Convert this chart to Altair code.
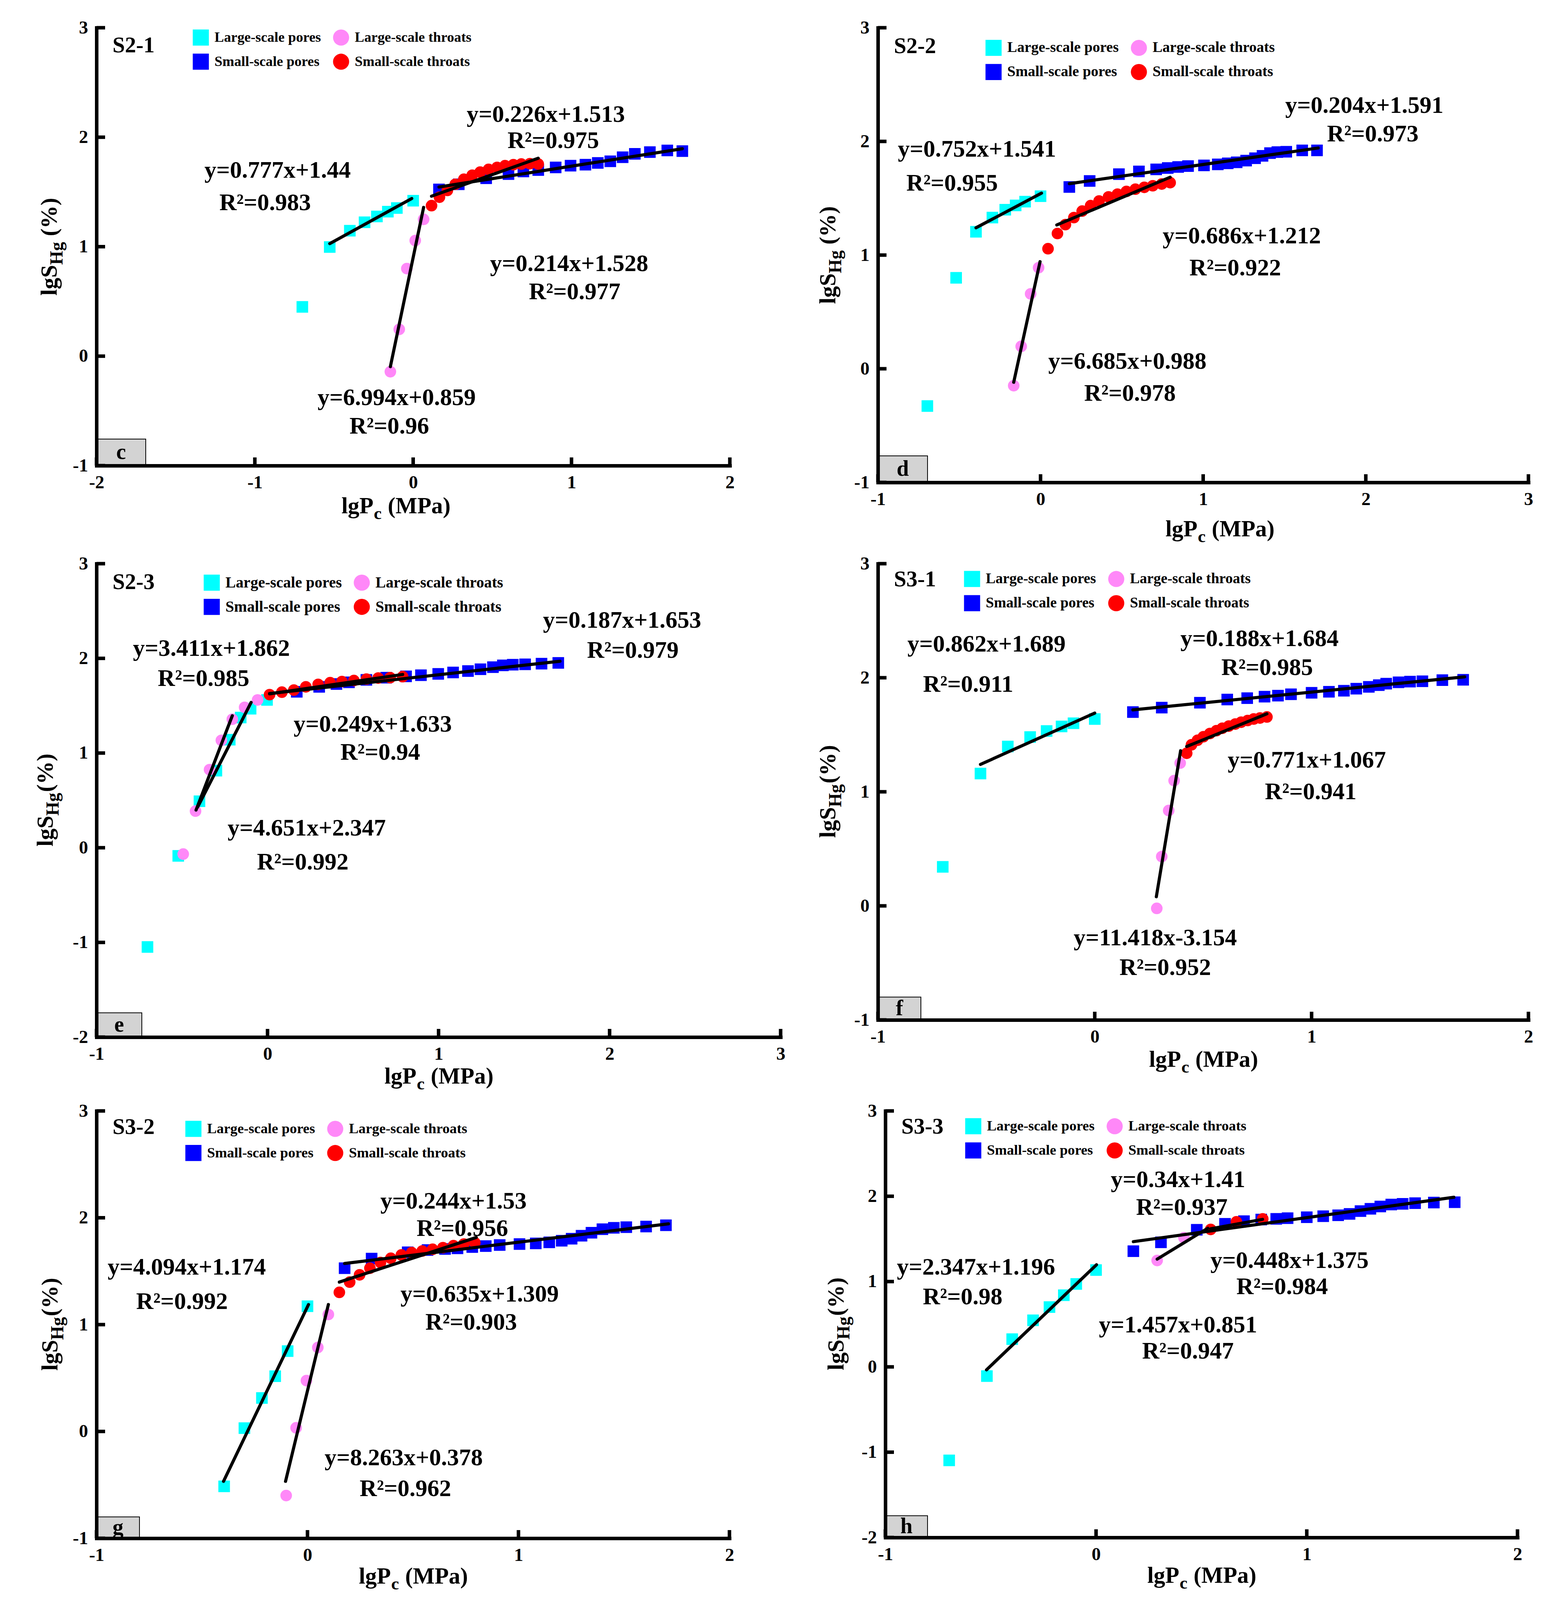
import altair as alt
import pandas as pd

FONT = "Liberation Serif"
# legend is filled column by column, so this order gives rows (pores|throats)
SERIES = ["Large-scale pores", "Small-scale pores", "Large-scale throats", "Small-scale throats"]
COLORS = ["#00FFFF", "#0000FF", "#FF88F8", "#FF0000"]
SHAPES = ["square", "square", "circle", "circle"]
DRAW_ORDER = [0, 1, 2, 3]
VS = 0.943  # vertical layout factor so the whole figure fits the photographed viewport

# ---------------- Panel c : S2-1 ----------------
c_lp_x = [-0.70, -0.527, -0.40, -0.307, -0.229, -0.16, -0.103, 0.0]
c_lp_y = [0.45, 0.997, 1.146, 1.223, 1.276, 1.32, 1.353, 1.42]
c_lt_x = [-0.144, -0.088, -0.04, 0.013, 0.066]
c_lt_y = [-0.142, 0.245, 0.80, 1.056, 1.25]
c_sp_x = [0.163, 0.288, 0.461, 0.602, 0.696, 0.79, 0.9, 0.994, 1.088, 1.166, 1.245, 1.323, 1.40, 1.495, 1.605, 1.70]
c_sp_y = [1.523, 1.57, 1.625, 1.663, 1.687, 1.70, 1.724, 1.74, 1.749, 1.765, 1.78, 1.817, 1.848, 1.864, 1.879, 1.873]
c_st_x = [0.116, 0.166, 0.216, 0.266, 0.32, 0.373, 0.423, 0.476, 0.53, 0.58, 0.633, 0.683, 0.737, 0.79]
c_st_y = [1.375, 1.452, 1.514, 1.57, 1.616, 1.653, 1.681, 1.706, 1.724, 1.74, 1.749, 1.755, 1.758, 1.755]
c_fit_x1 = [-0.527, -0.144, 0.116, 0.163]
c_fit_y1 = [1.028, -0.096, 1.461, 1.545]
c_fit_x2 = [-0.009, 0.066, 0.79, 1.70]
c_fit_y2 = [1.44, 1.359, 1.808, 1.895]
c_note_text = ["y=0.226x+1.513", "R²=0.975", "y=0.777x+1.44", "R²=0.983",
               "y=0.214x+1.528", "R²=0.977", "y=6.994x+0.859", "R²=0.96"]
c_note_x = [0.838, 0.885, -0.856, -0.935, 0.985, 1.02, -0.104, -0.151]
c_note_y = [2.204, 1.966, 1.693, 1.399, 0.842, 0.585, -0.381, -0.644]

# ---------------- Panel d : S2-2 ----------------
d_lp_x = [-0.696, -0.519, -0.397, -0.296, -0.217, -0.153, -0.095, 0.0]
d_lp_y = [-0.328, 0.80, 1.205, 1.33, 1.399, 1.437, 1.47, 1.518]
d_lt_x = [-0.165, -0.119, -0.061, -0.012]
d_lt_y = [-0.149, 0.197, 0.659, 0.889]
d_sp_x = [0.177, 0.302, 0.482, 0.605, 0.711, 0.782, 0.846, 0.907, 1.005, 1.09, 1.151, 1.206, 1.264, 1.319,
          1.365, 1.411, 1.456, 1.511, 1.609, 1.70]
d_sp_y = [1.599, 1.652, 1.712, 1.736, 1.754, 1.766, 1.775, 1.783, 1.789, 1.798, 1.807, 1.816, 1.831, 1.852,
          1.873, 1.897, 1.906, 1.909, 1.921, 1.921]
d_st_x = [0.046, 0.104, 0.153, 0.205, 0.256, 0.308, 0.36, 0.418, 0.473, 0.528, 0.583, 0.638, 0.69, 0.745, 0.797]
d_st_y = [1.056, 1.19, 1.268, 1.33, 1.387, 1.435, 1.476, 1.512, 1.536, 1.56, 1.58, 1.596, 1.61, 1.625, 1.637]
d_fit_x1 = [-0.397, -0.165, 0.1, 0.177]
d_fit_y1 = [1.24, -0.119, 1.265, 1.628]
d_fit_x2 = [0.006, -0.003, 0.797, 1.707]
d_fit_y2 = [1.545, 0.942, 1.685, 1.942]
d_note_text = ["y=0.204x+1.591", "R²=0.973", "y=0.752x+1.541", "R²=0.955",
               "y=0.686x+1.212", "R²=0.922", "y=6.685x+0.988", "R²=0.978"]
d_note_x = [1.991, 2.043, -0.391, -0.544, 1.237, 1.197, 0.534, 0.55]
d_note_y = [2.314, 2.061, 1.927, 1.628, 1.166, 0.883, 0.063, -0.221]

# ---------------- Panel e : S2-3 ----------------
e_lp_x = [-0.702, -0.522, -0.398, -0.299, -0.221, -0.157, -0.099, -0.003]
e_lp_y = [-1.048, -0.086, 0.491, 0.814, 1.141, 1.375, 1.468, 1.561]
e_lt_x = [-0.493, -0.421, -0.339, -0.27, -0.206, -0.134, -0.058]
e_lt_y = [-0.067, 0.387, 0.825, 1.134, 1.357, 1.483, 1.561]
e_sp_x = [0.171, 0.302, 0.403, 0.476, 0.578, 0.694, 0.81, 0.897, 0.998, 1.085, 1.172, 1.245, 1.318, 1.376,
          1.434, 1.506, 1.602, 1.70]
e_sp_y = [1.647, 1.699, 1.729, 1.747, 1.773, 1.796, 1.81, 1.822, 1.836, 1.851, 1.866, 1.885, 1.907, 1.926,
          1.933, 1.937, 1.944, 1.952]
e_st_x = [0.012, 0.084, 0.154, 0.224, 0.296, 0.366, 0.435, 0.505, 0.578, 0.647, 0.717, 0.79]
e_st_y = [1.617, 1.643, 1.665, 1.699, 1.725, 1.743, 1.755, 1.766, 1.781, 1.792, 1.796, 1.807]
e_fit_x1 = [-0.409, -0.418, 0.012, 0.012]
e_fit_y1 = [0.428, 0.398, 1.625, 1.628]
e_fit_x2 = [-0.096, -0.206, 0.79, 1.71]
e_fit_y2 = [1.535, 1.394, 1.83, 1.97]
e_note_text = ["y=0.187x+1.653", "R²=0.979", "y=3.411x+1.862", "R²=0.985",
               "y=0.249x+1.633", "R²=0.94", "y=4.651x+2.347", "R²=0.992"]
e_note_x = [2.073, 2.136, -0.328, -0.374, 0.615, 0.659, 0.229, 0.206]
e_note_y = [2.398, 2.082, 2.1, 1.784, 1.301, 1.004, 0.204, -0.156]

# ---------------- Panel f : S3-1 ----------------
f_lp_x = [-0.701, -0.527, -0.401, -0.298, -0.222, -0.153, -0.098, 0.0]
f_lp_y = [0.342, 1.16, 1.397, 1.48, 1.533, 1.573, 1.601, 1.638]
f_lt_x = [0.286, 0.309, 0.341, 0.366, 0.394]
f_lt_y = [-0.022, 0.432, 0.836, 1.098, 1.252]
f_sp_x = [0.176, 0.309, 0.485, 0.611, 0.703, 0.783, 0.845, 0.905, 1.0, 1.08, 1.149, 1.206, 1.264, 1.31,
          1.344, 1.401, 1.454, 1.511, 1.603, 1.699]
f_sp_y = [1.699, 1.738, 1.781, 1.809, 1.821, 1.834, 1.843, 1.855, 1.868, 1.877, 1.886, 1.904, 1.92, 1.935,
          1.948, 1.96, 1.966, 1.969, 1.979, 1.982]
f_st_x = [0.424, 0.446, 0.474, 0.501, 0.531, 0.561, 0.588, 0.618, 0.648, 0.675, 0.705, 0.733, 0.762, 0.794]
f_st_y = [1.338, 1.412, 1.452, 1.483, 1.511, 1.536, 1.557, 1.576, 1.594, 1.61, 1.625, 1.638, 1.647, 1.656]
f_fit_x1 = [-0.527, 0.284, 0.424, 0.176]
f_fit_y1 = [1.24, 0.08, 1.397, 1.718]
f_fit_x2 = [0.0, 0.396, 0.794, 1.706]
f_fit_y2 = [1.69, 1.36, 1.684, 2.008]
f_note_text = ["y=0.862x+1.689", "R²=0.911", "y=0.188x+1.684", "R²=0.985",
               "y=0.771x+1.067", "R²=0.941", "y=11.418x-3.154", "R²=0.952"]
f_note_x = [-0.499, -0.584, 0.76, 0.795, 0.978, 0.996, 0.279, 0.325]
f_note_y = [2.291, 1.937, 2.338, 2.085, 1.274, 0.996, -0.284, -0.546]

# ---------------- Panel g : S3-2 ----------------
g_lp_x = [-0.395, -0.299, -0.216, -0.153, -0.094, 0.0]
g_lp_y = [-0.514, 0.031, 0.313, 0.517, 0.752, 1.172]
g_lt_x = [-0.101, -0.054, -0.005, 0.049, 0.099]
g_lt_y = [-0.60, 0.034, 0.476, 0.786, 1.095]
g_sp_x = [0.176, 0.304, 0.475, 0.569, 0.652, 0.711, 0.781, 0.845, 0.911, 1.005, 1.082, 1.146, 1.205, 1.252,
          1.299, 1.346, 1.398, 1.452, 1.511, 1.605, 1.699]
g_sp_y = [1.528, 1.618, 1.677, 1.698, 1.708, 1.714, 1.726, 1.735, 1.745, 1.754, 1.76, 1.77, 1.785, 1.804,
          1.832, 1.86, 1.893, 1.906, 1.912, 1.918, 1.93]
g_st_x = [0.151, 0.2, 0.247, 0.296, 0.346, 0.395, 0.445, 0.494, 0.544, 0.593, 0.642, 0.692, 0.741, 0.793]
g_st_y = [1.302, 1.398, 1.466, 1.528, 1.581, 1.621, 1.652, 1.674, 1.689, 1.705, 1.72, 1.739, 1.754, 1.767]
g_fit_x1 = [-0.398, -0.104, 0.151, 0.176]
g_fit_y1 = [-0.467, -0.467, 1.398, 1.572]
g_fit_x2 = [0.005, 0.099, 0.80, 1.711]
g_fit_y2 = [1.188, 1.188, 1.816, 1.943]
g_note_text = ["y=0.244x+1.53", "R²=0.956", "y=4.094x+1.174", "R²=0.992",
               "y=0.635x+1.309", "R²=0.903", "y=8.263x+0.378", "R²=0.962"]
g_note_x = [0.692, 0.734, -0.572, -0.595, 0.816, 0.776, 0.456, 0.464]
g_note_y = [2.15, 1.895, 1.534, 1.213, 1.281, 1.018, -0.251, -0.538]

# ---------------- Panel h : S3-3 ----------------
h_lp_x = [-0.697, -0.518, -0.398, -0.299, -0.221, -0.153, -0.094, 0.0]
h_lp_y = [-1.096, -0.108, 0.325, 0.546, 0.701, 0.84, 0.972, 1.135]
h_lt_x = [0.29, 0.417]
h_lt_y = [1.247, 1.514]
h_sp_x = [0.177, 0.308, 0.478, 0.612, 0.702, 0.784, 0.855, 0.909, 1.0, 1.078, 1.149, 1.203, 1.255, 1.302,
          1.349, 1.401, 1.455, 1.514, 1.603, 1.702]
h_sp_y = [1.356, 1.46, 1.607, 1.677, 1.708, 1.727, 1.735, 1.743, 1.754, 1.766, 1.777, 1.793, 1.826, 1.853,
          1.88, 1.903, 1.911, 1.919, 1.926, 1.930]
h_st_x = [0.544, 0.666, 0.791]
h_st_y = [1.611, 1.70, 1.735]
h_fit_x1 = [-0.52, 0.29, 0.544, 0.177]
h_fit_y1 = [-0.035, 1.263, 1.619, 1.468]
h_fit_x2 = [0.002, 0.53, 0.79, 1.698]
h_fit_y2 = [1.197, 1.625, 1.729, 1.988]
h_note_text = ["y=0.34x+1.41", "R²=0.937", "y=2.347x+1.196", "R²=0.98",
               "y=0.448x+1.375", "R²=0.984", "y=1.457x+0.851", "R²=0.947"]
h_note_x = [0.389, 0.407, -0.57, -0.633, 0.918, 0.883, 0.389, 0.436]
h_note_y = [2.19, 1.865, 1.166, 0.817, 1.243, 0.933, 0.488, 0.178]

# pts order: large pores, small pores, large throats, small throats
PANELS = [
    dict(name="S2-1", letter="c", xdom=[-2, 2], ydom=[-1, 3],
         pts=[(c_lp_x, c_lp_y), (c_sp_x, c_sp_y), (c_lt_x, c_lt_y), (c_st_x, c_st_y)],
         fit=(c_fit_x1, c_fit_y1, c_fit_x2, c_fit_y2), notes=(c_note_text, c_note_x, c_note_y),
         style=dict(w=1621, h=1189, lgx=246, lgc=26, lgfs=36.3, idy=49, bw=126, bh=72,
                    xtdx=-45, xtyb=129, ytdx=-123, yspace=True)),
    dict(name="S2-2", letter="d", xdom=[-1, 3], ydom=[-1, 3],
         pts=[(d_lp_x, d_lp_y), (d_sp_x, d_sp_y), (d_lt_x, d_lt_y), (d_st_x, d_st_y)],
         fit=(d_fit_x1, d_fit_y1, d_fit_x2, d_fit_y2), notes=(d_note_text, d_note_x, d_note_y),
         style=dict(w=1665, h=1234, lgx=275, lgc=54, lgfs=38, idy=51, bw=127, bh=72,
                    xtdx=42, xtyb=146, ytdx=-130, yspace=True)),
    dict(name="S2-3", letter="e", xdom=[-1, 3], ydom=[-2, 3],
         pts=[(e_lp_x, e_lp_y), (e_sp_x, e_sp_y), (e_lt_x, e_lt_y), (e_st_x, e_st_y)],
         fit=(e_fit_x1, e_fit_y1, e_fit_x2, e_fit_y2), notes=(e_note_text, e_note_x, e_note_y),
         style=dict(w=1751, h=1285, lgx=274, lgc=51, lgfs=39.7, idy=51, bw=116, bh=66,
                    xtdx=0, xtyb=126, ytdx=-133, yspace=False)),
    dict(name="S3-1", letter="f", xdom=[-1, 2], ydom=[-1, 3],
         pts=[(f_lp_x, f_lp_y), (f_sp_x, f_sp_y), (f_lt_x, f_lt_y), (f_st_x, f_st_y)],
         fit=(f_fit_x1, f_fit_y1, f_fit_x2, f_fit_y2), notes=(f_note_text, f_note_x, f_note_y),
         style=dict(w=1665, h=1239, lgx=220, lgc=41, lgfs=37.6, idy=43, bw=110, bh=62,
                    xtdx=0, xtyb=127, ytdx=-130, yspace=False)),
    dict(name="S3-2", letter="g", xdom=[-1, 2], ydom=[-1, 3],
         pts=[(g_lp_x, g_lp_y), (g_sp_x, g_sp_y), (g_lt_x, g_lt_y), (g_st_x, g_st_y)],
         fit=(g_fit_x1, g_fit_y1, g_fit_x2, g_fit_y2), notes=(g_note_text, g_note_x, g_note_y),
         style=dict(w=1620, h=1160, lgx=227, lgc=48, lgfs=36.8, idy=45, bw=110, bh=58,
                    xtdx=0, xtyb=123, ytdx=-121, yspace=False)),
    dict(name="S3-3", letter="h", xdom=[-1, 2], ydom=[-2, 3],
         pts=[(h_lp_x, h_lp_y), (h_sp_x, h_sp_y), (h_lt_x, h_lt_y), (h_st_x, h_st_y)],
         fit=(h_fit_x1, h_fit_y1, h_fit_x2, h_fit_y2), notes=(h_note_text, h_note_x, h_note_y),
         style=dict(w=1618, h=1158, lgx=204, lgc=41, lgfs=36.7, idy=43, bw=108, bh=59,
                    xtdx=0, xtyb=123, ytdx=-128, yspace=False)),
]

SYM = 1700  # legend symbol area


def txt(s, x, y, size, angle=0, align="left", baseline="alphabetic"):
    kw = dict(text=s, font=FONT, fontSize=size, fontWeight="bold", color="black",
              align=align, baseline=baseline)
    if angle:
        kw["angle"] = angle
    return alt.Chart(alt.Data(values=[{}])).mark_text(**kw).encode(x=alt.value(x), y=alt.value(y))


def build(p):
    st = p["style"]
    W, H = st["w"], round(st["h"] * VS)
    xticks = list(range(p["xdom"][0], p["xdom"][1] + 1))
    yticks = list(range(p["ydom"][0], p["ydom"][1] + 1))
    xsc = alt.Scale(domain=p["xdom"], nice=False, zero=False)
    ysc = alt.Scale(domain=p["ydom"], nice=False, zero=False)
    xax = alt.Axis(values=xticks, title=None, labelExpr="'' + datum.value", zindex=1, labelPadding=20)
    yax = alt.Axis(values=yticks, title=None, labelExpr="'' + datum.value", zindex=1, labelPadding=22)

    def X(f):
        return alt.X(f, type="quantitative", scale=xsc, axis=xax)

    def Y(f):
        return alt.Y(f, type="quantitative", scale=ysc, axis=yax)

    rows = []
    for si in DRAW_ORDER:
        xs, ys = p["pts"][si]
        for a, b in zip(xs, ys):
            rows.append({"x": a, "y": b, "series": SERIES[si]})
    pts_df = pd.DataFrame(rows)

    rowh = SYM ** 0.5
    leg = alt.Legend(title=None, orient="none", legendX=st["lgx"], legendY=st["lgc"] * VS - rowh / 2,
                     columns=2, columnPadding=30, rowPadding=65 * VS - rowh, labelFont=FONT,
                     labelFontWeight="bold", labelFontSize=st["lgfs"], labelColor="black", labelOffset=14,
                     symbolSize=SYM, symbolStrokeWidth=0, padding=0, labelLimit=0)
    points = alt.Chart(pts_df).mark_point(filled=True, opacity=1, strokeWidth=0, size=880).encode(
        x=X("x"), y=Y("y"),
        color=alt.Color("series:N", scale=alt.Scale(domain=SERIES, range=COLORS), legend=leg),
        shape=alt.Shape("series:N", scale=alt.Scale(domain=SERIES, range=SHAPES), legend=leg),
    )

    x1, y1, x2, y2 = p["fit"]
    fit_df = pd.DataFrame({"x1": x1, "y1": y1, "x2": x2, "y2": y2})
    fits = alt.Chart(fit_df).mark_rule(color="black", strokeWidth=8, strokeCap="round").encode(
        x=X("x1"), y=Y("y1"), x2="x2", y2="y2")

    nt, nx, ny = p["notes"]
    note_df = pd.DataFrame({"label": nt, "x": nx, "y": ny})
    notes = alt.Chart(note_df).mark_text(font=FONT, fontWeight="bold", fontSize=61, color="black",
                                         align="center", baseline="middle").encode(
        x=X("x"), y=Y("y"), text="label:N")

    xt = alt.Chart(pd.DataFrame({"t": xticks})).mark_rule(color="black", strokeWidth=9).encode(
        x=X("t"), y=alt.value(H), y2=alt.value(H - 21))
    yt = alt.Chart(pd.DataFrame({"t": yticks})).mark_rule(color="black", strokeWidth=9).encode(
        y=Y("t"), x=alt.value(0), x2=alt.value(22))

    bw, bh = st["bw"], st["bh"] * VS
    box = alt.Chart(alt.Data(values=[{}])).mark_rect(fill="#D3D3D3", stroke="black", strokeWidth=2).encode(
        x=alt.value(0), x2=alt.value(bw), y=alt.value(H - bh), y2=alt.value(H))
    letter = txt(p["letter"], bw / 2, H - bh / 2, 56, align="center", baseline="middle")
    pid = txt(p["name"], 41, st["idy"] * VS, 57, baseline="middle")

    # x title: lgP_c (MPa)
    F, SF = 59, 45
    wl, wc, wr = 1.389 * F, 0.444 * SF, 2.97 * F
    x0 = W / 2 + st["xtdx"] - (wl + wc + wr) / 2
    yb = H + st["xtyb"] * VS
    xt1 = txt("lgP", x0, yb, F)
    xt2 = txt("c", x0 + wl + 1, yb + 15, SF)
    xt3 = txt("(MPa)", x0 + wl + wc + 2 + 0.25 * F, yb, F)

    # y title: lgS_Hg (%)
    YS = 46
    wlgs, whg = 1.334 * F, 1.278 * YS
    wp = 1.666 * F + (0.25 * F if st["yspace"] else 0)
    yb0 = H / 2 + (wlgs + whg + wp) / 2
    xb = st["ytdx"] + 21
    yt1 = txt("lgS", xb, yb0, F, angle=270)
    yt2 = txt("Hg", xb + 15, yb0 - wlgs, YS, angle=270)
    yt3 = txt("(%)", xb, yb0 - wlgs - whg - (0.25 * F if st["yspace"] else 2), F, angle=270)

    return alt.layer(points, fits, notes, box, letter, xt, yt, pid, xt1, xt2, xt3, yt1, yt2, yt3).properties(
        width=W, height=H)


charts = [build(p) for p in PANELS]


def row(a, b, sp):
    return alt.hconcat(a, b, spacing=sp).resolve_scale(
        color="independent", shape="independent", x="independent", y="independent"
    ).resolve_legend(color="independent", shape="independent")


chart = alt.vconcat(
    row(charts[0], charts[1], 211),
    row(charts[2], charts[3], 81),
    row(charts[4], charts[5], 233),
    spacing=22,
).resolve_scale(
    color="independent", shape="independent", x="independent", y="independent"
).resolve_legend(color="independent", shape="independent").properties(
    padding={"left": 80, "top": 39, "right": 5, "bottom": 5}, background="white"
).configure_view(stroke=None).configure_axis(
    domainColor="black", domainWidth=9, domainCap="square", ticks=False, grid=False,
    labelFont=FONT, labelFontSize=47, labelFontWeight="bold", labelColor="black",
    labelFlush=False, labelOverlap=False, labelBound=False,
)

chart.save("out.html", embed_options={"renderer": "svg", "actions": False})
